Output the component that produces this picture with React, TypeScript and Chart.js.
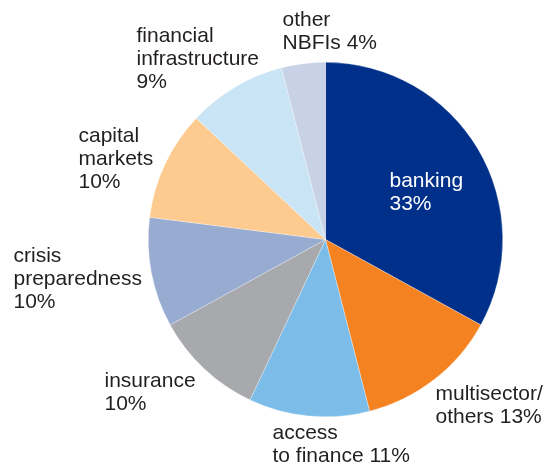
import React, { useEffect, useRef } from "react";
import { Chart, registerables } from "chart.js";

Chart.register(...registerables);

const categories = [
  "banking",
  "multisector/others",
  "access to finance",
  "insurance",
  "crisis preparedness",
  "capital markets",
  "financial infrastructure",
  "other NBFIs",
];
const shares = [33, 13, 11, 10, 10, 10, 9, 4];
const sliceColors = [
  "#00308A",
  "#F58220",
  "#7BBDE8",
  "#A7A9AC",
  "#98ACD2",
  "#FDCA8F",
  "#C9E4F5",
  "#C8D2E6",
];
// label text lines (use {v} for value)
const labelLines: string[][] = [
  ["banking", "{v}%"],
  ["multisector/", "others {v}%"],
  ["access", "to finance {v}%"],
  ["insurance", "{v}%"],
  ["crisis", "preparedness", "{v}%"],
  ["capital", "markets", "{v}%"],
  ["financial", "infrastructure", "{v}%"],
  ["other", "NBFIs {v}%"],
];
// label anchor offsets relative to pie centre (left x, first-line baseline y)
const labelOffsets: [number, number][] = [
  [64, -53],
  [110, 160],
  [-53, 199],
  [-221, 147],
  [-312, 22],
  [-247, -98],
  [-189, -198],
  [-43, -214],
];
const labelColors = ["#FFFFFF", "#231F20", "#231F20", "#231F20", "#231F20", "#231F20", "#231F20", "#231F20"];

const labelPlugin = {
  id: "sliceLabels",
  afterDraw(chart: any) {
    const meta = chart.getDatasetMeta(0);
    const arc = meta.data[0];
    if (!arc) return;
    const cx = arc.x;
    const cy = arc.y;
    const ctx = chart.ctx;
    ctx.save();
    ctx.font = "21px 'Liberation Sans', Arial, sans-serif";
    ctx.textBaseline = "alphabetic";
    ctx.textAlign = "left";
    const lh = 23.4;
    labelLines.forEach((lines, i) => {
      const [dx, dy] = labelOffsets[i];
      ctx.fillStyle = labelColors[i];
      lines.forEach((ln, j) => {
        ctx.fillText(ln.replace("{v}", String(shares[i])), cx + dx, cy + dy + j * lh);
      });
    });
    ctx.restore();
  },
};

export default function App() {
  const ref = useRef<HTMLCanvasElement>(null);
  useEffect(() => {
    if (!ref.current) return;
    const chart = new Chart(ref.current, {
      type: "pie",
      data: {
        labels: categories,
        datasets: [
          {
            data: shares,
            backgroundColor: sliceColors,
            borderColor: "rgba(255,255,255,0.6)",
            borderWidth: 0.5,
          },
        ],
      },
      options: {
        responsive: false,
        animation: false,
        layout: { padding: { left: 148, right: 45, top: 62, bottom: 51 } },
        plugins: {
          legend: { display: false },
          tooltip: { enabled: false },
        },
      },
      plugins: [labelPlugin],
    });
    return () => chart.destroy();
  }, []);
  return (
    <div style={{ position: "absolute", left: 0, top: 0, width: 548, height: 468, background: "#fff" }}>
      <canvas ref={ref} width={548} height={468} />
    </div>
  );
}
